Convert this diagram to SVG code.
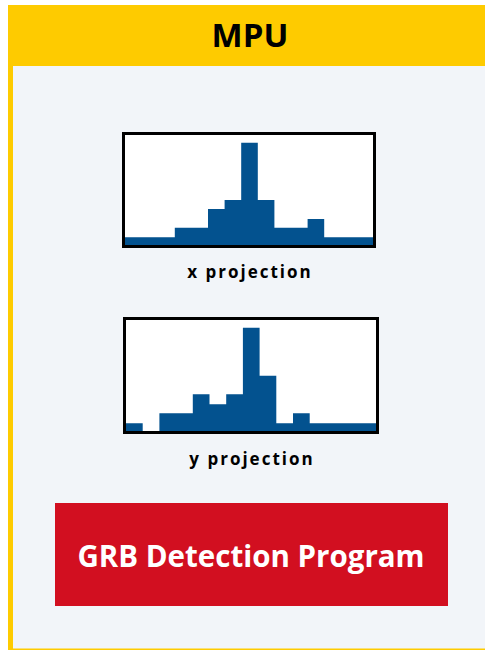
<svg xmlns="http://www.w3.org/2000/svg" width="485" height="651" viewBox="0 0 485 651">
<style>
.lbl{font-family:"Open Sans","Liberation Sans",sans-serif;font-weight:700;fill:#000;text-anchor:middle}
.bar{fill:#03528f}
.frame{fill:none;stroke:#000;stroke-width:3}
</style>
<rect width="485" height="651" fill="#ffffff"/>
<g id="mpu">
<rect x="8" y="5" width="490" height="645" fill="#fecb00"/>
<rect x="13" y="66" width="485" height="582.5" fill="#f2f5f9"/>
<text class="lbl" x="250" y="46.5" font-size="33">MPU</text>
</g>
<g id="x-projection">
<rect x="123.5" y="133.5" width="251" height="113" fill="#fff"/>
<path class="bar" d="M125,245 V237.3 H174.8 V227.7 H208 V209 H224.6 V200 H241.2 V142.7 H257.8 V200 H274.4 V227.7 H307.6 V219 H324.2 V237.3 H373 V245 Z"/>
<rect class="frame" x="123.5" y="133.5" width="251" height="113"/>
<text class="lbl" x="250" y="278" font-size="17" letter-spacing="2">x projection</text>
</g>
<g id="y-projection">
<rect x="124.5" y="318.5" width="253" height="114" fill="#fff"/>
<path class="bar" d="M126,431 V423.3 H142.7 V431 H159.4 V413.3 H192.8 V394.3 H209.5 V404.3 H226.2 V394.3 H242.9 V327.7 H259.6 V375.7 H276.3 V423.3 H293 V413.3 H309.7 V423.3 H376 V431 Z"/>
<rect class="frame" x="124.5" y="318.5" width="253" height="114"/>
<text class="lbl" x="252" y="465" font-size="17" letter-spacing="2">y projection</text>
</g>
<g id="grb">
<rect x="55" y="503" width="393" height="103" fill="#d20f20"/>
<text class="lbl" x="251" y="567.3" font-size="29.5" style="fill:#fff">GRB Detection Program</text>
</g>
<g id="connectors"/>
</svg>
